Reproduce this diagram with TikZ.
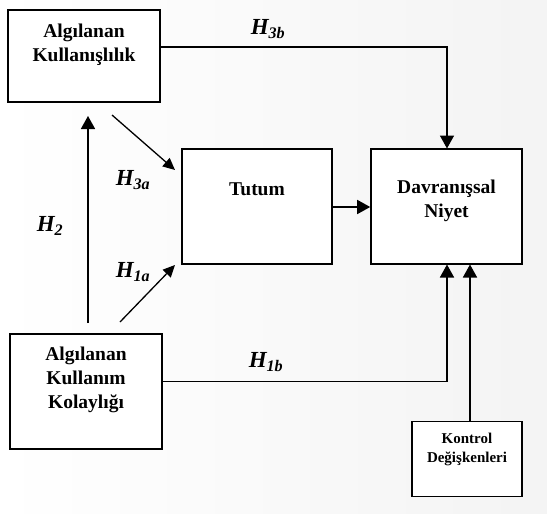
\documentclass[tikz,border=0pt]{standalone}
\usepackage{fontspec}
\setmainfont{Liberation Serif}
\usetikzlibrary{arrows.meta}
\newcommand\hyp[1]{\textbf{\textit{H\textsubscript{#1}}}}
\begin{document}
\begin{tikzpicture}[x=1pt,y=-1pt,
  box/.style={draw,line width=1.6pt,fill=white,inner sep=0pt},
  txt/.style={align=center,font=\bfseries\fontsize{19.5}{24}\selectfont,inner sep=0pt},
  smalltxt/.style={align=center,font=\bfseries\fontsize{15}{19}\selectfont,inner sep=0pt},
  hlab/.style={font=\fontsize{23}{26}\selectfont,inner sep=0pt},
  arr/.style={line width=1.6pt,-{Triangle[length=13pt,width=14pt]}},
  thinarr/.style={line width=1.3pt,-{Triangle[length=12pt,width=11pt]}}]
\useasboundingbox (0,0) rectangle (547,514);
\shade[left color=white,right color=gray!9] (0,0) rectangle (547,514);
% boxes
\node[box,minimum width=152pt,minimum height=92pt] (ak) at (84,56) {};
\node[txt] (aktxt) at (84,45) {Algılanan\\Kullanışlılık};
\node[box,minimum width=150pt,minimum height=115pt] (tu) at (257,206.5) {};
\node[txt] (tutxt) at (257,189) {Tutum};
\node[box,minimum width=151pt,minimum height=115pt] (dn) at (446.5,206.5) {};
\node[txt] (dntxt) at (446.5,201) {Davranışsal\\Niyet};
\node[box,minimum width=152pt,minimum height=115pt] (akk) at (86,391.5) {};
\node[txt] (akktxt) at (86,379.5) {Algılanan\\Kullanım\\Kolaylığı};
\node[box,minimum width=110pt,minimum height=75pt] (kd) at (467,459) {};
\node[smalltxt] (kdtxt) at (467,449.5) {Kontrol\\Değişkenleri};
% coordinates
\coordinate (h2s) at (88,323);
\coordinate (h2e) at (88,116);
\coordinate (h3as) at (112,115);
\coordinate (h3ae) at (175,170);
\coordinate (h1as) at (120,322);
\coordinate (h1ae) at (175,265);
% connectors
\draw[arr] (ak.east |- 0,47) -| (447,148.5);
\draw[arr] (akk.east |- 0,381.5) -| (447,264.5);
\draw[arr] (kd.north -| 470,0) -- (470,264.5);
\draw[arr] (tu.east |- 0,207) -- (dn.west |- 0,207);
\draw[arr] (h2s) -- (h2e);
\draw[thinarr] (h3as) -- (h3ae);
\draw[thinarr] (h1as) -- (h1ae);
% labels
\node[hlab] (l3b) at (268,29) {\hyp{3b}};
\node[hlab] (l3a) at (133,180) {\hyp{3a}};
\node[hlab] (l2) at (50,226) {\hyp{2}};
\node[hlab] (l1a) at (133,272) {\hyp{1a}};
\node[hlab] (l1b) at (266,362) {\hyp{1b}};
\end{tikzpicture}
\end{document}
